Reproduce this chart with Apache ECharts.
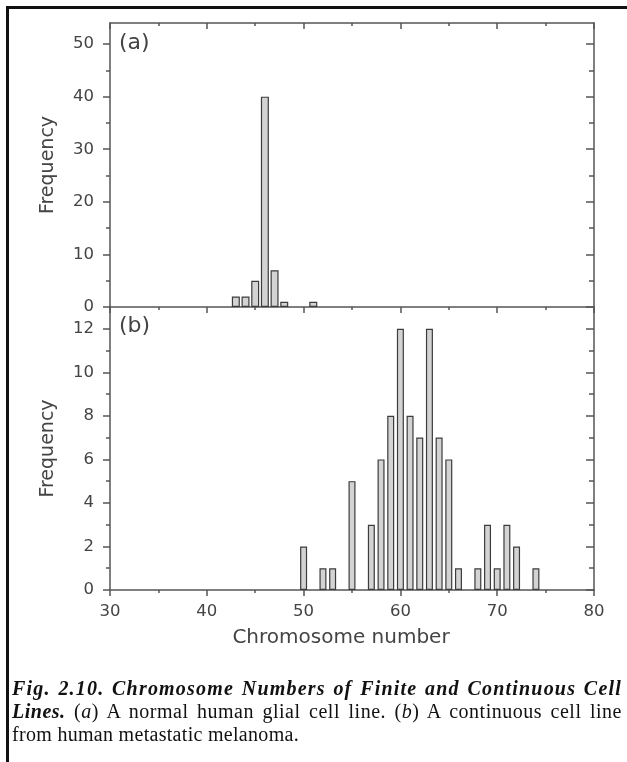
<!DOCTYPE html>
<html lang="en" style="height: 100%">
<head>
<meta charset="utf-8" />
<style>
  body { margin: 0; background: #fff; }
  #frame { position: absolute; left: 6px; top: 6px; width: 621px; height: 756px;
           border-top: 3px solid #111; border-left: 3px solid #111; box-sizing: border-box; }
  #container { position: absolute; left: 0; top: 0; width: 627px; height: 762px; }
  .cap { position: absolute; left: 12px; width: 610px; font-family: "Liberation Serif", serif;
         font-size: 20px; line-height: 23px; color: #111; }
  .just { text-align: justify; text-align-last: justify; }
  .bi { font-weight: bold; font-style: italic; }
</style>
</head>
<body>
<div id="frame"></div>
<div id="container"></div>
<div class="cap just bi" style="top: 677px; letter-spacing: 1.2px">Fig. 2.10. Chromosome Numbers of Finite and Continuous Cell</div>
<div class="cap just" style="top: 700px; letter-spacing: 0.5px"><span class="bi">Lines.</span> (<i>a</i>) A normal human glial cell line. (<i>b</i>) A continuous cell line</div>
<div class="cap" style="top: 723px; letter-spacing: 0.3px">from human metastatic melanoma.</div>

<script type="text/javascript" src="https://fastly.jsdelivr.net/npm/echarts@6/dist/echarts.min.js"></script>
<script type="text/javascript">
var glialChromosomes = [43, 44, 45, 46, 47, 48, 51];
var glialFrequency = [2, 2, 5, 40, 7, 1, 1];
var melanomaChromosomes = [50, 52, 53, 55, 57, 58, 59, 60, 61, 62, 63, 64, 65, 66, 68, 69, 70, 71, 72, 74];
var melanomaFrequency = [2, 1, 1, 5, 3, 6, 8, 12, 8, 7, 12, 7, 6, 1, 1, 3, 1, 3, 2, 1];
var glialTicks = [0, 10, 20, 30, 40, 50];
var glialMinor = [5, 15, 25, 35, 45];
var melanomaTicks = [0, 2, 4, 6, 8, 10, 12];
var melanomaMinor = [1, 3, 5, 7, 9, 11];

var AX = '#555';
var FONT = 'DejaVu Sans';

function pairs(xs, ys) {
    return xs.map(function (x, i) { return [x, ys[i]]; });
}

function xAx(grid, pos, labels, inside) {
    return {
        type: 'value', gridIndex: grid, position: pos, min: 30, max: 80, interval: 10,
        axisLine: { show: true, onZero: false, lineStyle: { color: AX, width: 1.5 } },
        axisTick: { show: true, inside: inside, length: 6, lineStyle: { color: AX, width: 1.5 } },
        minorTick: { show: true, splitNumber: 2, length: 3, lineStyle: { color: AX, width: 1.5 } },
        splitLine: { show: false },
        axisLabel: { show: labels, margin: 13, fontFamily: FONT, fontSize: 16.5, color: '#444' },
        name: labels ? 'Chromosome number' : '',
        nameLocation: 'middle', nameGap: 38,
        nameTextStyle: { fontFamily: FONT, fontSize: 20, color: '#444', padding: [0, 22, 0, 0] }
    };
}

function yAx(grid, pos, max, ticks, len, inside, showLine, labels) {
    return {
        type: 'value', gridIndex: grid, position: pos, min: 0, max: max,
        axisLine: { show: showLine, onZero: false, lineStyle: { color: AX, width: 1.5 } },
        axisTick: { show: true, inside: inside, length: len, customValues: ticks,
                    lineStyle: { color: AX, width: 1.5 } },
        splitLine: { show: false },
        axisLabel: { show: labels, customValues: ticks, margin: 16,
                     fontFamily: FONT, fontSize: 16.5, color: '#444' },
        name: labels ? 'Frequency' : '',
        nameLocation: 'middle', nameGap: 52,
        nameTextStyle: { fontFamily: FONT, fontSize: 19, color: '#444' }
    };
}

var barStyle = { color: '#d3d3d3', borderColor: '#3c3c3c', borderWidth: 1.2 };

var option = {
    animation: false,
    grid: [
        { left: 110, width: 484, top: 23, height: 284 },
        { left: 110, width: 484, top: 307, height: 283 }
    ],
    xAxis: [
        xAx(0, 'bottom', false, false),
        xAx(0, 'top', false, true),
        xAx(1, 'bottom', true, false)
    ],
    yAxis: [
        yAx(0, 'left', 54, glialTicks, 7, false, true, true),
        yAx(0, 'left', 54, glialMinor, 4, false, false, false),
        yAx(0, 'right', 54, glialTicks, 8, true, true, false),
        yAx(0, 'right', 54, glialMinor, 5, true, false, false),
        yAx(1, 'left', 13, melanomaTicks, 7, false, true, true),
        yAx(1, 'left', 13, melanomaMinor, 4, false, false, false),
        yAx(1, 'right', 13, melanomaTicks, 8, true, true, false),
        yAx(1, 'right', 13, melanomaMinor, 5, true, false, false)
    ],
    graphic: [
        { type: 'text', left: 119, top: 32,
          style: { text: '(a)', font: '22px "DejaVu Sans"', fill: '#444' } },
        { type: 'text', left: 119, top: 315,
          style: { text: '(b)', font: '22px "DejaVu Sans"', fill: '#444' } }
    ],
    series: [
        { type: 'bar', xAxisIndex: 0, yAxisIndex: 0, barWidth: 8, silent: true,
          data: pairs(glialChromosomes, glialFrequency), itemStyle: barStyle },
        { type: 'bar', xAxisIndex: 2, yAxisIndex: 4, barWidth: 7, silent: true,
          data: pairs(melanomaChromosomes, melanomaFrequency), itemStyle: barStyle }
    ]
};

var myChart = echarts.init(document.getElementById('container'), null, { renderer: 'canvas' });
myChart.setOption(option);
window.addEventListener('resize', myChart.resize);
</script>
</body>
</html>
